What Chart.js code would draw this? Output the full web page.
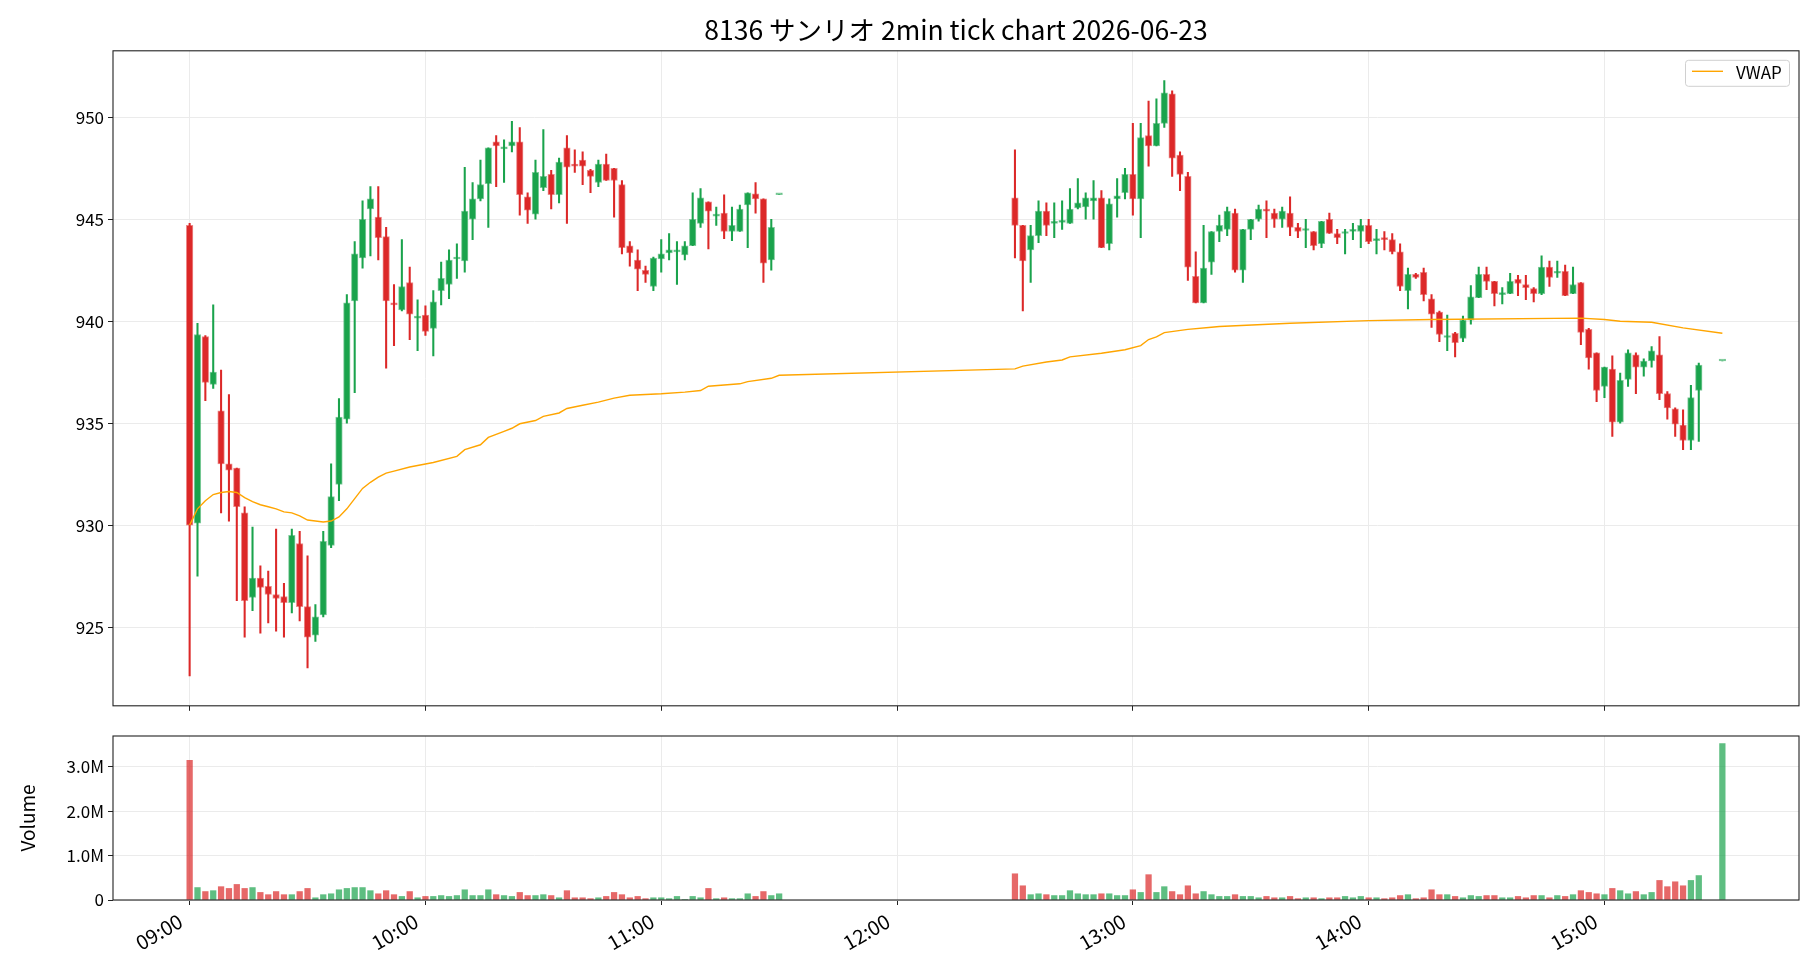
<!DOCTYPE html>
<html>
<head>
<meta charset="utf-8">
<title>8136 サンリオ 2min tick chart</title>
<script src="https://cdn.jsdelivr.net/npm/chart.js@4.4.1/dist/chart.umd.min.js"></script>
<style>
  html, body { margin: 0; padding: 0; background: #fff; }
  #wrap { position: relative; width: 1820px; height: 980px; }
  #priceCanvas { position: absolute; left: 0; top: 0; }
  #volCanvas { position: absolute; left: 0; top: 720px; }
</style>
</head>
<body>
<div id="wrap">
  <canvas id="priceCanvas" width="1820" height="720"></canvas>
  <canvas id="volCanvas" width="1820" height="260"></canvas>
</div>
<script>
// 2-minute bars, 8136 Sanrio, 2026-06-23
const times = [
  '09:00','09:02','09:04','09:06','09:08','09:10','09:12','09:14','09:16','09:18',
  '09:20','09:22','09:24','09:26','09:28','09:30','09:32','09:34','09:36','09:38',
  '09:40','09:42','09:44','09:46','09:48','09:50','09:52','09:54','09:56','09:58',
  '10:00','10:02','10:04','10:06','10:08','10:10','10:12','10:14','10:16','10:18',
  '10:20','10:22','10:24','10:26','10:28','10:30','10:32','10:34','10:36','10:38',
  '10:40','10:42','10:44','10:46','10:48','10:50','10:52','10:54','10:56','10:58',
  '11:00','11:02','11:04','11:06','11:08','11:10','11:12','11:14','11:16','11:18',
  '11:20','11:22','11:24','11:26','11:28','11:30',
  '12:30','12:32','12:34','12:36','12:38','12:40','12:42','12:44','12:46','12:48',
  '12:50','12:52','12:54','12:56','12:58','13:00','13:02','13:04','13:06','13:08',
  '13:10','13:12','13:14','13:16','13:18','13:20','13:22','13:24','13:26','13:28',
  '13:30','13:32','13:34','13:36','13:38','13:40','13:42','13:44','13:46','13:48',
  '13:50','13:52','13:54','13:56','13:58','14:00','14:02','14:04','14:06','14:08',
  '14:10','14:12','14:14','14:16','14:18','14:20','14:22','14:24','14:26','14:28',
  '14:30','14:32','14:34','14:36','14:38','14:40','14:42','14:44','14:46','14:48',
  '14:50','14:52','14:54','14:56','14:58','15:00','15:02','15:04','15:06','15:08',
  '15:10','15:12','15:14','15:16','15:18','15:20','15:22','15:24','15:30'
];

const opens = [
  944.7, 930.1, 939.25, 936.9, 935.6, 933.0, 932.8, 930.6, 926.45, 927.4,
  927.0, 926.6, 926.5, 926.2, 929.1, 926.0, 924.6, 925.6, 929.0, 932.0,
  935.2, 941.0, 943.1, 945.5, 945.1, 944.15, 940.9, 940.55, 941.9, 940.15,
  940.3, 939.65, 941.5, 941.8, 943.05, 942.95, 945.0, 946.0, 946.75, 948.8,
  948.45, 948.6, 948.8, 946.1, 945.25, 946.55, 947.2, 946.2, 948.5, 947.7,
  947.9, 947.4, 946.8, 947.7, 947.5, 946.7, 943.7, 943.0, 942.5, 941.7,
  943.05, 943.35, 943.4, 943.25, 943.7, 944.8, 945.85, 945.15, 945.3, 944.4,
  944.4, 945.7, 946.25, 946.0, 943.0, 946.2,
  946.05, 944.7, 943.5, 944.2, 945.4, 944.8, 944.85, 944.8, 945.55, 945.6,
  945.9, 946.05, 943.8, 946.0, 946.3, 947.2, 946.0, 949.1, 948.6, 949.7,
  951.15, 948.15, 947.1, 942.2, 940.9, 942.9, 944.4, 944.5, 945.3, 942.5,
  944.5, 945.0, 945.5, 945.3, 945.0, 945.3, 944.6, 944.45, 944.4, 943.8,
  945.0, 944.3, 944.3, 944.4, 944.4, 944.7, 943.95, 944.1, 944.0, 943.4,
  941.5, 942.3, 942.4, 941.1, 940.45, 939.2, 939.4, 939.15, 940.05, 941.15,
  942.3, 941.95, 941.3, 941.35, 942.05, 941.8, 941.6, 941.35, 942.65, 942.35,
  942.45, 941.35, 941.9, 939.6, 938.45, 936.8, 937.65, 935.05, 937.15, 938.35,
  937.75, 938.05, 938.35, 936.45, 935.7, 934.9, 934.15, 936.6, 938.05
];
const highs = [
  944.8, 939.9, 939.3, 940.8, 937.6, 936.4, 932.8, 930.9, 929.9, 928.0,
  927.75, 929.8, 927.15, 929.8, 929.7, 928.5, 926.1, 929.7, 933.0, 936.2,
  941.3, 943.9, 945.9, 946.6, 946.6, 944.6, 941.8, 944.0, 942.65, 941.05,
  940.75, 941.5, 942.9, 943.5, 943.8, 947.55, 946.8, 947.9, 948.5, 949.1,
  948.9, 949.8, 949.5, 946.3, 947.9, 949.4, 947.4, 948.0, 949.1, 948.4,
  948.3, 947.45, 947.9, 948.2, 947.5, 946.9, 943.9, 943.5, 942.7, 943.15,
  944.0, 944.3, 943.9, 943.9, 946.3, 946.5, 945.85, 945.6, 946.2, 945.6,
  945.7, 946.3, 946.8, 946.0, 945.0, 946.2,
  948.4, 944.7, 944.7, 945.9, 945.8, 945.8, 945.9, 946.5, 947.0, 946.3,
  946.9, 946.4, 946.0, 947.0, 947.5, 949.7, 949.7, 950.8, 950.9, 951.8,
  951.3, 948.3, 947.3, 943.4, 944.7, 944.4, 945.2, 945.6, 945.5, 944.5,
  945.0, 945.7, 945.9, 945.5, 945.6, 946.1, 944.8, 945.0, 944.4, 944.9,
  945.3, 944.5, 944.5, 944.8, 945.0, 945.0, 944.5, 944.4, 944.3, 943.8,
  942.6, 942.35, 942.6, 941.3, 940.5, 940.3, 939.45, 940.25, 941.75, 942.65,
  942.65, 941.95, 941.65, 942.35, 942.25, 942.25, 941.65, 943.2, 942.95, 942.95,
  942.75, 942.65, 941.9, 939.65, 938.45, 937.75, 938.3, 937.45, 938.6, 938.45,
  938.15, 938.75, 939.25, 936.55, 935.75, 935.65, 936.85, 937.95, 938.05
];
const lows = [
  922.6, 927.5, 936.1, 936.7, 930.6, 930.2, 926.3, 924.5, 925.8, 924.7,
  925.2, 924.8, 924.5, 925.7, 925.3, 923.0, 924.3, 925.5, 928.9, 931.2,
  935.0, 936.5, 942.6, 943.2, 943.0, 937.7, 938.8, 940.5, 939.1, 938.55,
  939.3, 938.3, 940.8, 941.1, 942.1, 942.4, 944.0, 945.9, 944.6, 946.6,
  946.8, 948.3, 945.2, 944.8, 945.0, 946.4, 945.5, 945.8, 944.8, 947.3,
  946.7, 946.3, 946.6, 946.9, 945.1, 943.3, 942.7, 941.5, 941.9, 941.5,
  942.4, 943.0, 941.8, 943.0, 943.7, 944.6, 943.55, 944.7, 944.05, 943.95,
  944.4, 943.6, 945.3, 941.9, 942.5, 946.2,
  943.1, 940.5, 941.9, 943.85, 944.2, 944.1, 944.5, 944.8, 945.5, 945.0,
  945.0, 943.6, 943.5, 945.1, 946.0, 945.2, 944.1, 947.6, 948.6, 949.5,
  947.1, 946.4, 942.0, 940.9, 940.9, 942.3, 943.9, 944.2, 942.4, 941.9,
  944.0, 944.9, 944.1, 944.6, 944.6, 944.2, 944.1, 943.6, 943.5, 943.6,
  944.3, 943.8, 943.3, 944.0, 943.6, 943.8, 943.3, 943.5, 943.3, 941.5,
  940.6, 942.1, 941.0, 939.7, 939.0, 938.55, 938.25, 939.0, 939.85, 941.15,
  941.55, 940.75, 940.85, 941.35, 941.25, 941.05, 940.95, 941.3, 941.7, 942.15,
  941.25, 941.35, 938.85, 937.65, 936.05, 936.25, 934.35, 935.0, 936.8, 936.45,
  937.3, 937.75, 936.15, 935.2, 934.35, 933.7, 933.7, 934.1, 938.05
];
const closes = [
  930.0, 939.35, 937.0, 937.5, 933.0, 932.7, 930.9, 926.3, 927.4, 926.95,
  926.6, 926.4, 926.2, 929.5, 926.0, 924.5, 925.5, 929.2, 931.4, 935.3,
  940.9, 943.3, 945.0, 946.0, 944.1, 941.0, 940.8, 941.7, 940.35, 940.2,
  939.5, 940.95, 942.1, 943.0, 943.15, 945.4, 946.0, 946.7, 948.5, 948.6,
  948.5, 948.8, 946.2, 945.45, 947.3, 947.1, 946.2, 947.8, 947.55, 947.6,
  947.6, 947.1, 947.7, 946.9, 946.9, 943.6, 943.35, 942.55, 942.3, 943.1,
  943.3, 943.5, 943.5, 943.7, 945.0, 946.05, 945.4, 945.2, 944.4, 944.7,
  945.5, 946.3, 946.0, 942.85, 944.6, 946.2,
  944.7, 942.95, 944.2, 945.4, 944.7, 944.9, 944.9, 945.5, 945.8, 946.05,
  946.05, 943.6, 945.75, 946.15, 947.2, 946.0, 949.0, 948.6, 949.7, 951.2,
  948.0, 947.2, 942.65, 940.9, 942.6, 944.4, 944.7, 945.4, 942.5, 944.5,
  945.0, 945.5, 945.4, 945.0, 945.4, 944.6, 944.4, 944.5, 943.7, 944.9,
  944.3, 944.1, 944.4, 944.5, 944.7, 943.9, 944.0, 944.0, 943.4, 941.7,
  942.3, 942.15, 941.3, 940.35, 939.35, 939.25, 938.95, 940.05, 941.2, 942.3,
  941.95, 941.35, 941.35, 941.95, 941.85, 941.65, 941.35, 942.65, 942.15, 942.45,
  941.25, 941.8, 939.45, 938.2, 936.6, 937.75, 935.05, 937.1, 938.45, 937.75,
  938.05, 938.55, 936.45, 935.75, 934.95, 934.15, 936.25, 937.85, 938.05
];
const volumes = [
  3140000, 280000, 190000, 210000, 300000, 260000, 350000, 260000, 280000, 170000,
  120000, 190000, 120000, 120000, 190000, 260000, 50000, 120000, 140000, 230000,
  260000, 280000, 280000, 210000, 140000, 210000, 120000, 80000, 190000, 50000,
  80000, 80000, 100000, 80000, 100000, 230000, 100000, 100000, 230000, 120000,
  100000, 80000, 170000, 100000, 100000, 120000, 100000, 50000, 210000, 50000,
  50000, 30000, 50000, 80000, 170000, 120000, 50000, 80000, 30000, 50000,
  50000, 30000, 80000, 10000, 80000, 50000, 260000, 30000, 50000, 30000,
  30000, 140000, 80000, 190000, 100000, 140000,
  590000, 320000, 120000, 140000, 120000, 100000, 100000, 210000, 140000, 120000,
  120000, 140000, 140000, 100000, 100000, 230000, 170000, 570000, 170000, 300000,
  190000, 120000, 320000, 140000, 190000, 120000, 80000, 80000, 120000, 80000,
  80000, 50000, 80000, 50000, 50000, 80000, 30000, 50000, 50000, 30000,
  50000, 50000, 80000, 50000, 80000, 50000, 50000, 30000, 50000, 100000,
  120000, 30000, 50000, 230000, 120000, 120000, 80000, 50000, 100000, 80000,
  100000, 100000, 50000, 50000, 80000, 50000, 100000, 100000, 50000, 100000,
  80000, 120000, 210000, 170000, 140000, 120000, 260000, 210000, 140000, 190000,
  120000, 170000, 440000, 300000, 410000, 320000, 440000, 550000, 3520000
];

// VWAP at these times
const vwapTimes = [
  '09:00','09:02','09:04','09:06','09:08','09:10','09:12','09:14','09:16','09:18',
  '09:20','09:22','09:24','09:26','09:28','09:30','09:32','09:34','09:36','09:38',
  '09:40','09:42','09:44','09:46','09:48','09:50','09:52','09:56','10:00','10:02',
  '10:08','10:10','10:14','10:16','10:20','10:22','10:24','10:28','10:30','10:34',
  '10:36','10:40','10:44','10:48','10:52','11:00','11:06','11:10','11:12','11:20',
  '11:22','11:28','11:30','12:30','12:32','12:38','12:42','12:44','12:52','12:58',
  '13:02','13:04','13:06','13:08','13:14','13:20','13:22','13:40','14:00','14:16',
  '14:54','15:00','15:04','15:12','15:20','15:30'
];
const vwapValues = [
  930.0, 930.8, 931.2, 931.5, 931.6, 931.65, 931.6, 931.35, 931.15, 931.0,
  930.9, 930.8, 930.65, 930.6, 930.45, 930.25, 930.2, 930.15, 930.2, 930.4,
  930.8, 931.3, 931.8, 932.1, 932.35, 932.55, 932.65, 932.85, 933.0, 933.07,
  933.37, 933.7, 933.94, 934.3, 934.6, 934.75, 934.97, 935.13, 935.33, 935.5,
  935.72, 935.88, 936.03, 936.23, 936.37, 936.44, 936.52, 936.6, 936.81, 936.93,
  937.04, 937.2, 937.35, 937.66, 937.8, 938.0, 938.1, 938.25, 938.43, 938.6,
  938.8, 939.1, 939.23, 939.44, 939.6, 939.7, 939.74, 939.9, 940.03, 940.08,
  940.15, 940.08, 940.0, 939.95, 939.67, 939.41
];

const hourTicks = ['09:00','10:00','11:00','12:00','13:00','14:00','15:00'];
const priceTicks = [925, 930, 935, 940, 945, 950];
const volumeTicks = [0, 1000000, 2000000, 3000000];

const UP = 'rgb(26,163,76)';
const DOWN = 'rgb(220,40,40)';
const UP_SOFT = 'rgba(26,163,76,0.7)';
const DOWN_SOFT = 'rgba(220,40,40,0.7)';
const FONT = "'Noto Sans CJK JP', 'Noto Sans', sans-serif";

function toMin(t) {
  const [h, m] = t.split(':').map(Number);
  return h * 60 + m;
}
function fmtMin(v) {
  const h = Math.floor(v / 60), m = Math.round(v % 60);
  return String(h).padStart(2, '0') + ':' + String(m).padStart(2, '0');
}

const X_MIN = toMin('09:00') - 19.5;
const X_MAX = toMin('15:30') + 19.5;
const AXIS_W = 113;

const isUp = times.map((t, i) => closes[i] >= opens[i]);
const flat = times.map((t, i) => highs[i] === lows[i]);

Chart.defaults.font.family = FONT;
Chart.defaults.color = '#000';

const gridOpts = {
  color: '#ebebeb',
  lineWidth: 1,
  offset: false,
  drawTicks: true,
  tickLength: 5,
  tickColor: '#222',
  tickWidth: 1
};

// box round the plot like matplotlib spines
const framePlugin = {
  id: 'frame',
  afterDraw(chart) {
    const { ctx, chartArea: a } = chart;
    ctx.save();
    ctx.strokeStyle = '#222';
    ctx.lineWidth = 1.1;
    ctx.strokeRect(a.left, a.top, a.right - a.left, a.bottom - a.top);
    ctx.restore();
  }
};

// VWAP legend inside the upper right corner
const vwapLegend = {
  id: 'vwapLegend',
  afterDraw(chart) {
    const { ctx, chartArea: a } = chart;
    const w = 104, h = 26;
    const x = a.right - 10 - w, y = a.top + 9;
    ctx.save();
    ctx.fillStyle = 'rgba(255,255,255,0.85)';
    ctx.strokeStyle = '#d0d0d0';
    ctx.lineWidth = 1;
    ctx.beginPath();
    ctx.roundRect(x + 0.5, y + 0.5, w, h, 3);
    ctx.fill();
    ctx.stroke();
    ctx.strokeStyle = '#ffa500';
    ctx.lineWidth = 1.4;
    ctx.beginPath();
    ctx.moveTo(x + 7, y + 11.5);
    ctx.lineTo(x + 38, y + 11.5);
    ctx.stroke();
    ctx.fillStyle = '#000';
    ctx.font = '17px ' + FONT;
    ctx.textBaseline = 'middle';
    ctx.fillText('VWAP', x + 51, y + 12.5);
    ctx.restore();
  }
};

new Chart(document.getElementById('priceCanvas'), {
  type: 'bar',
  data: {
    datasets: [
      {
        type: 'line',
        label: 'VWAP',
        data: vwapTimes.map((t, i) => ({ x: toMin(t), y: vwapValues[i] })),
        borderColor: '#ffa500',
        borderWidth: 1.4,
        pointRadius: 0,
        tension: 0,
        order: 0
      },
      {
        label: 'body',
        data: times.map((t, i) => ({ x: toMin(t), y: [opens[i], closes[i]] })),
        backgroundColor: times.map((t, i) => flat[i] ? UP_SOFT : (isUp[i] ? UP : DOWN)),
        borderColor: times.map((t, i) => isUp[i] ? 'rgba(26,163,76,0.55)' : 'rgba(220,40,40,0.55)'),
        borderWidth: 1,
        borderSkipped: false,
        barThickness: 6.6,
        minBarLength: 2,
        grouped: false,
        order: 1
      },
      {
        label: 'wick',
        data: times.map((t, i) => ({ x: toMin(t), y: [lows[i], highs[i]] })),
        backgroundColor: times.map((t, i) => isUp[i] ? UP : DOWN),
        borderWidth: 0,
        barThickness: 1.4,
        grouped: false,
        order: 2
      }
    ]
  },
  options: {
    responsive: false,
    animation: false,
    layout: { padding: { left: 0, right: 21, top: 0, bottom: 0 } },
    plugins: {
      legend: { display: false },
      tooltip: { enabled: false },
      title: {
        display: true,
        text: '8136 サンリオ 2min tick chart 2026-06-23',
        fullSize: false,
        font: { size: 26.5, weight: 'normal' },
        color: '#000',
        padding: { top: 14, bottom: 5 }
      }
    },
    scales: {
      x: {
        type: 'linear',
        min: X_MIN,
        max: X_MAX,
        offset: false,
        afterBuildTicks: s => { s.ticks = hourTicks.map(t => ({ value: toMin(t) })); },
        afterFit: s => { s.height = 13; },
        ticks: { display: false },
        grid: gridOpts,
        border: { display: false }
      },
      y: {
        min: 921.14,
        max: 953.26,
        afterBuildTicks: s => { s.ticks = priceTicks.map(v => ({ value: v })); },
        afterFit: s => { s.width = AXIS_W; },
        ticks: { font: { size: 17 }, padding: 4, color: '#000' },
        grid: gridOpts,
        border: { display: false }
      }
    }
  },
  plugins: [framePlugin, vwapLegend]
});

new Chart(document.getElementById('volCanvas'), {
  type: 'bar',
  data: {
    datasets: [{
      label: 'Volume',
      data: times.map((t, i) => ({ x: toMin(t), y: volumes[i] })),
      backgroundColor: times.map((t, i) => isUp[i] ? UP_SOFT : DOWN_SOFT),
      borderWidth: 0,
      barThickness: 5.6,
      grouped: false
    }]
  },
  options: {
    responsive: false,
    animation: false,
    layout: { padding: { left: 0, right: 21, top: 16, bottom: 0 } },
    plugins: {
      legend: { display: false },
      tooltip: { enabled: false }
    },
    scales: {
      x: {
        type: 'linear',
        min: X_MIN,
        max: X_MAX,
        offset: false,
        afterBuildTicks: s => { s.ticks = hourTicks.map(t => ({ value: toMin(t) })); },
        afterFit: s => { s.height = 80; },
        ticks: {
          autoSkip: false,
          minRotation: 30,
          maxRotation: 30,
          padding: 4,
          labelOffset: -9,
          font: { size: 20 },
          color: '#000',
          callback: v => fmtMin(v)
        },
        grid: gridOpts,
        border: { display: false }
      },
      y: {
        min: 0,
        max: 3.69e6,
        afterBuildTicks: s => { s.ticks = volumeTicks.map(v => ({ value: v })); },
        afterFit: s => { s.width = AXIS_W; },
        ticks: {
          font: { size: 17 },
          padding: 4,
          color: '#000',
          callback: v => v === 0 ? '0' : (v / 1e6).toFixed(1) + 'M'
        },
        title: {
          display: true,
          text: 'Volume',
          font: { size: 19 },
          color: '#000',
          padding: { top: 16, bottom: 0 }
        },
        grid: gridOpts,
        border: { display: false }
      }
    }
  },
  plugins: [framePlugin]
});
</script>
</body>
</html>
